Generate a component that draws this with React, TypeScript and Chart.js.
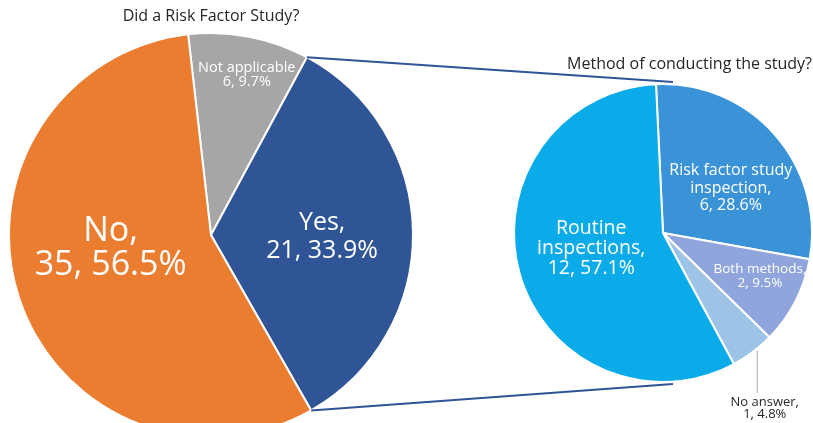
import React, { useEffect, useRef } from "react";
import { Chart, registerables } from "chart.js";

Chart.register(...registerables);

// ---------- data ----------
const mainTitle = "Did a Risk Factor Study?";
const mainNames = [["Not applicable"], ["Yes,"], ["No,"]];
const mainValues = [6, 21, 35];
const mainPercents = ["9.7%", "33.9%", "56.5%"];

const subTitle = "Method of conducting the study?";
const subNames = [["Risk factor study", "inspection,"], ["Both methods,"], ["No answer,"], ["Routine", "inspections,"]];
const subValues = [6, 2, 1, 12];
const subPercents = ["28.6%", "9.5%", "4.8%", "57.1%"];

// ---------- styles ----------
const FONT = "'Open Sans', 'Noto Sans', sans-serif";
const mainColors = ["#A6A6A6", "#2F5597", "#EB7D30"];
const subColors = ["#3A92D7", "#8FA5DC", "#9DC3E6", "#0BABEA"];
const mainLabelStyle = [
  { size: 14.5, lh: 14, frac: 0.817, off: 1.6, color: "#FFFFFF" },
  { size: 25, lh: 28, frac: 0.55, off: 0.5, color: "#FFFFFF" },
  { size: 34, lh: 34, frac: 0.5, off: 11.8, color: "#FFFFFF" },
];
const subLabelStyle = [
  { size: 16, lh: 17.5, frac: 0.55, off: 7.1, color: "#FFFFFF" },
  { size: 13.5, lh: 14, frac: 0.71, off: -3.7, color: "#FFFFFF" },
  { size: 13, lh: 11.5, frac: 1.0, off: -2, color: "#262626", outside: true },
  { size: 19.5, lh: 20, frac: 0.49, off: 4.9, color: "#FFFFFF" },
];

const W = 813;
const H = 440;

function labelLines(names: string[][], values: number[], pcts: string[]) {
  return names.map((n, i) => [...n, `${values[i]}, ${pcts[i]}`]);
}

function arcProps(arc: any) {
  return arc.getProps(["x", "y", "startAngle", "endAngle", "outerRadius"], true);
}

function makeLabelPlugin(lines: string[][], styles: any[]) {
  return {
    id: "sliceLabels",
    afterDatasetsDraw(chart: any) {
      const ctx = chart.ctx;
      const meta = chart.getDatasetMeta(0);
      ctx.save();
      meta.data.forEach((arc: any, i: number) => {
        const st = styles[i];
        const p = arcProps(arc);
        const mid = (p.startAngle + p.endAngle) / 2 + (st.off * Math.PI) / 180;
        const r = p.outerRadius * st.frac;
        const cx = p.x + r * Math.cos(mid);
        const cy = p.y + r * Math.sin(mid);
        const ls = lines[i];
        ctx.font = `${st.size}px ${FONT}`;
        ctx.fillStyle = st.color;
        ctx.textAlign = "center";
        ctx.textBaseline = "alphabetic";
        const cap = st.size * 0.72;
        if (st.outside) {
          const x0 = cx;
          const y0 = cy + 2;
          const y1 = y0 + 42;
          ctx.strokeStyle = "#A6A6A6";
          ctx.lineWidth = 1;
          ctx.beginPath();
          ctx.moveTo(x0 + 0.5, y0);
          ctx.lineTo(x0 + 0.5, y1);
          ctx.stroke();
          ls.forEach((t, k) => {
            ctx.fillText(t, x0 + 8, y1 + 4 + cap + k * st.lh);
          });
        } else {
          const blockH = (ls.length - 1) * st.lh + cap;
          const first = cy - blockH / 2 + cap;
          ls.forEach((t, k) => {
            ctx.fillText(t, cx, first + k * st.lh);
          });
        }
      });
      ctx.restore();
    },
  };
}

function makeTitlePlugin(text: string, align: "center" | "right", gap: number) {
  return {
    id: "pieTitle",
    afterDraw(chart: any) {
      const ctx = chart.ctx;
      const arc = chart.getDatasetMeta(0).data[0];
      if (!arc) return;
      const p = arcProps(arc);
      ctx.save();
      ctx.font = `16px ${FONT}`;
      ctx.fillStyle = "#262626";
      ctx.textBaseline = "alphabetic";
      ctx.textAlign = align;
      const x = align === "center" ? p.x : chart.width - 1;
      ctx.fillText(text, x, p.y - p.outerRadius - gap);
      ctx.restore();
    },
  };
}

export default function App() {
  const leftRef = useRef<HTMLCanvasElement>(null);
  const rightRef = useRef<HTMLCanvasElement>(null);

  useEffect(() => {
    const common = {
      responsive: false,
      animation: false as const,
      devicePixelRatio: 1,
      events: [] as any[],
      plugins: { legend: { display: false }, tooltip: { enabled: false }, title: { display: false } },
    };

    const left = new Chart(leftRef.current!, {
      type: "pie",
      data: {
        labels: mainNames.map((n) => n.join(" ")),
        datasets: [
          {
            data: mainValues,
            backgroundColor: mainColors,
            borderColor: "#FFFFFF",
            borderWidth: 2,
          },
        ],
      },
      options: {
        ...common,
        rotation: -6.5,
        layout: { padding: { left: 8, top: 32, right: W - 8 - 406, bottom: H - 32 - 406 } },
      } as any,
      plugins: [makeLabelPlugin(labelLines(mainNames, mainValues, mainPercents), mainLabelStyle), makeTitlePlugin(mainTitle, "center", 12)],
    });

    const connectorPlugin = {
      id: "connectors",
      beforeDatasetsDraw(chart: any) {
        const yes = left.getDatasetMeta(0).data[1];
        const tgt = chart.getDatasetMeta(0).data[0];
        if (!yes || !tgt) return;
        const a = arcProps(yes);
        const b = arcProps(tgt);
        const R = a.outerRadius;
        const ctx = chart.ctx;
        ctx.save();
        ctx.strokeStyle = "#2F5597";
        ctx.lineWidth = 2;
        ctx.beginPath();
        ctx.moveTo(a.x + R * Math.cos(a.startAngle), a.y + R * Math.sin(a.startAngle));
        ctx.lineTo(b.x + 10, b.y - b.outerRadius - 2);
        ctx.moveTo(a.x + R * Math.cos(a.endAngle), a.y + R * Math.sin(a.endAngle));
        ctx.lineTo(b.x + 10, b.y + b.outerRadius + 2);
        ctx.stroke();
        ctx.restore();
      },
    };

    const right = new Chart(rightRef.current!, {
      type: "pie",
      data: {
        labels: subNames.map((n) => n.join(" ")),
        datasets: [
          {
            data: subValues,
            backgroundColor: subColors,
            borderColor: "#FFFFFF",
            borderWidth: 2,
          },
        ],
      },
      options: {
        ...common,
        rotation: -2.7,
        layout: { padding: { left: 513, top: 83, right: 0, bottom: H - 83 - 300 } },
      } as any,
      plugins: [connectorPlugin, makeLabelPlugin(labelLines(subNames, subValues, subPercents), subLabelStyle), makeTitlePlugin(subTitle, "right", 15)],
    });

    return () => {
      right.destroy();
      left.destroy();
    };
  }, []);

  const cs: React.CSSProperties = { position: "absolute", left: 0, top: 0, width: W, height: H };
  return (
    <div style={{ position: "absolute", left: 0, top: 0, width: 813, height: 423, overflow: "hidden", background: "#FFFFFF" }}>
      <canvas ref={leftRef} width={W} height={H} style={cs} />
      <canvas ref={rightRef} width={W} height={H} style={cs} />
    </div>
  );
}
